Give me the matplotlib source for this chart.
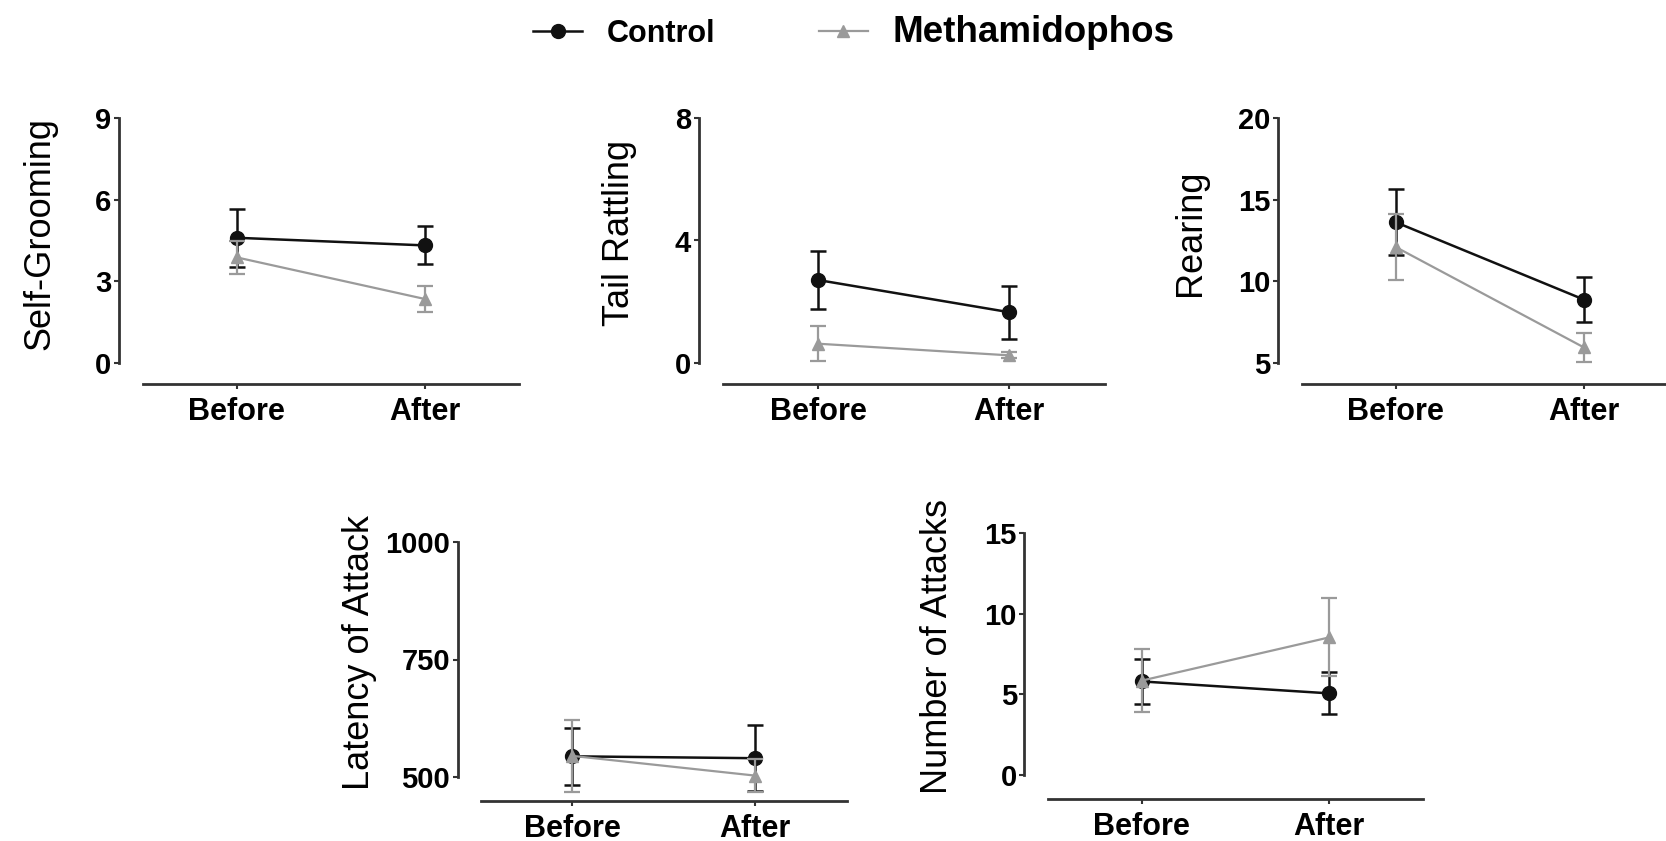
import numpy as np
import matplotlib.pyplot as plt
from matplotlib.lines import Line2D
from matplotlib.collections import LineCollection

plt.rcParams['font.family'] = ['Liberation Sans', 'DejaVu Sans']

# Dane (średnia +/- SEM)
groups = ['Before', 'After']

grooming_ctrl = [4.60, 4.32]
grooming_ctrl_sem = [1.07, 0.70]
grooming_meth = [3.88, 2.35]
grooming_meth_sem = [0.60, 0.48]

rattling_ctrl = [2.71, 1.66]
rattling_ctrl_sem = [0.95, 0.87]
rattling_meth = [0.63, 0.25]
rattling_meth_sem = [0.57, 0.10]

rearing_ctrl = [13.62, 8.88]
rearing_ctrl_sem = [2.02, 1.40]
rearing_meth = [12.10, 5.95]
rearing_meth_sem = [2.00, 0.90]

latency_ctrl = [544, 540]
latency_ctrl_sem = [60, 70]
latency_meth = [545, 503]
latency_meth_sem = [76, 35]

attacks_ctrl = [5.80, 5.06]
attacks_ctrl_sem = [1.37, 1.30]
attacks_meth = [5.85, 8.53]
attacks_meth_sem = [1.93, 2.42]

grooming_ticks = [0, 3, 6, 9]
rattling_ticks = [0, 4, 8]
rearing_ticks = [5, 10, 15, 20]
latency_ticks = [500, 750, 1000]
attacks_ticks = [0, 5, 10, 15]

W, H = 1666, 841
DARK = '#111111'
GREY = '#9a9a9a'

fig = plt.figure(figsize=(W / 100, H / 100), dpi=100)


def panel(before_x, unit, top, bottom, label, label_right, offset,
          ctrl, ctrl_sem, meth, meth_sem, ticks):
    # pozycja osi w pikselach -> ułamki figury
    x0 = -0.625
    x1 = 1.5
    l = before_x + x0 * unit
    w = (x1 - x0) * unit
    ax = fig.add_axes([l / W, 1 - bottom / H, w / W, (bottom - top) / H])
    x = np.arange(len(groups))

    ax.errorbar(x, ctrl, yerr=ctrl_sem, color=DARK, marker='o', ms=10,
                lw=1.8, elinewidth=1.8, capsize=6, capthick=1.8, zorder=2,
                label='Control')
    ax.errorbar(x, meth, yerr=meth_sem, color=GREY, marker='^', ms=8,
                lw=1.6, elinewidth=1.6, capsize=6, capthick=1.6, zorder=3,
                label='Methamidophos')
    for ch in ax.get_children():
        if isinstance(ch, (Line2D, LineCollection)):
            ch.set_clip_on(False)

    for s in ['top', 'right']:
        ax.spines[s].set_visible(False)
    for s in ['left', 'bottom']:
        ax.spines[s].set_linewidth(2)
        ax.spines[s].set_color('#333333')
    ax.spines['bottom'].set_position(('outward', offset))
    ax.spines['bottom'].set_bounds(-0.5, 1.5)

    ax.set_xlim(x0, x1)
    ax.set_ylim(ticks[0], ticks[-1])
    ax.set_yticks(ticks)
    ax.set_xticks(x)
    ax.set_xticklabels(groups)
    ax.tick_params(axis='both', direction='out', length=3.5, width=1.5,
                   color='#333333', labelsize=21)
    ax.tick_params(axis='x', labelsize=22, pad=6)
    ax.tick_params(axis='y', pad=2)
    for t in ax.get_xticklabels() + ax.get_yticklabels():
        t.set_fontweight('bold')

    ax.set_ylabel(label, fontsize=26)
    ax.yaxis.set_label_coords((label_right - l) / w, 0.53)
    ax.patch.set_alpha(0)
    return ax


ax1 = panel(236.7, 188.3, 118, 363, 'Self-Grooming', 57, 15,
            grooming_ctrl, grooming_ctrl_sem, grooming_meth, grooming_meth_sem,
            grooming_ticks)
panel(818, 191, 118, 363, 'Tail Rattling', 637, 15,
      rattling_ctrl, rattling_ctrl_sem, rattling_meth, rattling_meth_sem,
      rattling_ticks)
panel(1395.7, 188.3, 118, 363, 'Rearing', 1208, 15,
      rearing_ctrl, rearing_ctrl_sem, rearing_meth, rearing_meth_sem,
      rearing_ticks)
panel(572, 183, 542, 777, 'Latency of Attack', 377, 17,
      latency_ctrl, latency_ctrl_sem, latency_meth, latency_meth_sem,
      latency_ticks)
panel(1141.7, 187.6, 533, 775, 'Number of Attacks', 955, 17,
      attacks_ctrl, attacks_ctrl_sem, attacks_meth, attacks_meth_sem,
      attacks_ticks)

# Legenda
handles, labels = ax1.get_legend_handles_labels()
handles = [h[0] for h in handles]
leg = fig.legend(handles, labels, loc='center', ncol=2, frameon=False,
                 bbox_to_anchor=(0.5125, 1 - 32 / H), handlelength=1.6,
                 handletextpad=0.8, columnspacing=3.4,
                 prop={'weight': 'bold', 'size': 22})
leg.get_texts()[1].set_fontsize(26.5)

fig.savefig('out.png', dpi=100)
